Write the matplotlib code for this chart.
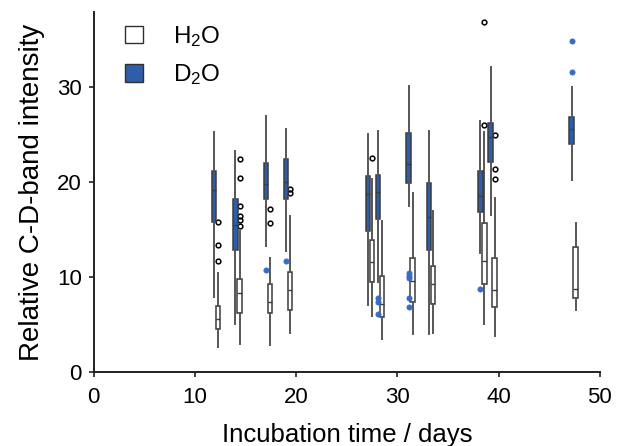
import matplotlib
matplotlib.use('Agg')
import matplotlib.pyplot as plt
from matplotlib.patches import Patch

plt.rcParams['font.family'] = ['Liberation Sans', 'DejaVu Sans']
plt.rcParams['mathtext.fontset'] = 'custom'
plt.rcParams['mathtext.rm'] = 'Liberation Sans'

# -----------------------------
# Data
# -----------------------------
days_d2o = [11.9, 14.0, 17.0, 19.0, 27.1, 28.1, 31.1, 33.1, 38.2, 39.2, 47.2]
days_h2o = [12.3, 14.4, 17.4, 19.4, 27.5, 28.5, 31.5, 33.5, 38.6, 39.6, 47.6]

d2o_whislo = [7.9, 5.1, 13.3, 12.7, 7.1, 9.5, 17.5, 4.0, 12.5, 16.5, 20.2]
d2o_q1 = [15.8, 12.8, 18.2, 18.2, 14.8, 16.1, 19.9, 12.8, 16.8, 22.1, 24.0]
d2o_med = [19.2, 15.5, 19.8, 20.0, 18.7, 18.9, 21.9, 16.3, 18.5, 24.7, 25.6]
d2o_q3 = [21.2, 18.2, 22.0, 22.4, 20.6, 20.7, 25.2, 19.9, 21.2, 26.2, 26.8]
d2o_whishi = [25.3, 23.3, 27.0, 25.6, 25.1, 25.4, 30.1, 25.4, 26.4, 32.1, 30.0]
d2o_fliers = [[], [], [10.7], [11.7], [], [7.8, 7.4, 6.1],
              [10.4, 10.1, 9.9, 7.8, 6.8], [], [8.7], [], [34.8, 31.6]]

h2o_whislo = [2.6, 2.9, 2.8, 4.1, 5.9, 3.5, 4.0, 4.1, 5.1, 3.8, 6.5]
h2o_q1 = [4.5, 6.2, 6.2, 6.5, 9.5, 5.8, 7.4, 7.2, 9.3, 6.8, 7.8]
h2o_med = [5.6, 8.3, 7.4, 8.6, 11.6, 7.2, 9.6, 9.3, 11.7, 8.6, 8.7]
h2o_q3 = [6.9, 9.8, 9.3, 10.5, 13.9, 10.1, 12.0, 11.2, 15.7, 12.0, 13.2]
h2o_whishi = [10.4, 14.8, 12.0, 16.4, 20.3, 15.9, 18.8, 17.0, 25.3, 18.3, 15.7]
h2o_fliers = [[15.8, 13.4, 11.7], [22.4, 20.4, 17.5, 16.4, 16.0, 15.4],
              [17.2, 15.7], [19.3, 18.8], [22.5], [], [], [],
              [26.0, 36.8], [25.0, 21.4, 20.3], []]

blue = '#2E5DAA'
dot_blue = '#3A6BC4'
edge = '#3C3C3C'


def make_stats(lo, q1, med, q3, hi, fl):
    return [dict(whislo=a, q1=b, med=c, q3=d, whishi=e, fliers=f)
            for a, b, c, d, e, f in zip(lo, q1, med, q3, hi, fl)]


d2o_stats = make_stats(d2o_whislo, d2o_q1, d2o_med, d2o_q3, d2o_whishi, d2o_fliers)
h2o_stats = make_stats(h2o_whislo, h2o_q1, h2o_med, h2o_q3, h2o_whishi, h2o_fliers)

# -----------------------------
# Plot
# -----------------------------
fig = plt.figure(figsize=(6.21, 4.46), dpi=100)
ax = fig.add_axes([0.151, 0.166, 0.815, 0.807])

whisk = dict(color='#565656', linewidth=1.4)
ax.bxp(h2o_stats, positions=days_h2o, widths=0.42, patch_artist=True,
       showcaps=False, manage_ticks=False,
       boxprops=dict(facecolor='white', edgecolor=edge, linewidth=1.1),
       medianprops=dict(color=edge, linewidth=1.0),
       whiskerprops=whisk,
       flierprops=dict(marker='o', markersize=3.4, markerfacecolor='none',
                       markeredgecolor='black', markeredgewidth=1.1))
ax.bxp(d2o_stats, positions=days_d2o, widths=0.42, patch_artist=True,
       showcaps=False, manage_ticks=False,
       boxprops=dict(facecolor=blue, edgecolor=edge, linewidth=1.1),
       medianprops=dict(color=edge, linewidth=1.0),
       whiskerprops=whisk,
       flierprops=dict(marker='o', markersize=3.8, markerfacecolor=dot_blue,
                       markeredgecolor=dot_blue, markeredgewidth=0.5))

ax.set_xlim(0, 50)
ax.set_ylim(0, 37.9)
ax.set_xticks([0, 10, 20, 30, 40, 50])
ax.set_yticks([0, 10, 20, 30])
ax.spines['top'].set_visible(False)
ax.spines['right'].set_visible(False)
for s in ('left', 'bottom'):
    ax.spines[s].set_linewidth(1.4)
    ax.spines[s].set_color('#202020')
ax.tick_params(direction='out', length=3.5, width=1.2, labelsize=16, color='#202020')
ax.tick_params(axis='x', pad=7)
ax.tick_params(axis='y', pad=5)

ax.set_xlabel('Incubation time / days', fontsize=18.5, labelpad=11)
ax.set_ylabel('Relative C-D-band intensity', fontsize=20, labelpad=9)

handles = [Patch(facecolor='white', edgecolor='#303030', linewidth=1.0),
           Patch(facecolor=blue, edgecolor='#303030', linewidth=1.0)]
fig.legend(handles, [r'$\mathregular{H_2O}$', r'$\mathregular{D_2O}$'],
           loc='upper left', bbox_to_anchor=(125 / 621, 1 - 24 / 446),
           frameon=False, borderpad=0, borderaxespad=0,
           fontsize=17.5, handlelength=0.74, handleheight=0.74, handletextpad=1.23,
           labelspacing=0.55)

fig.savefig('out.png', dpi=100)
